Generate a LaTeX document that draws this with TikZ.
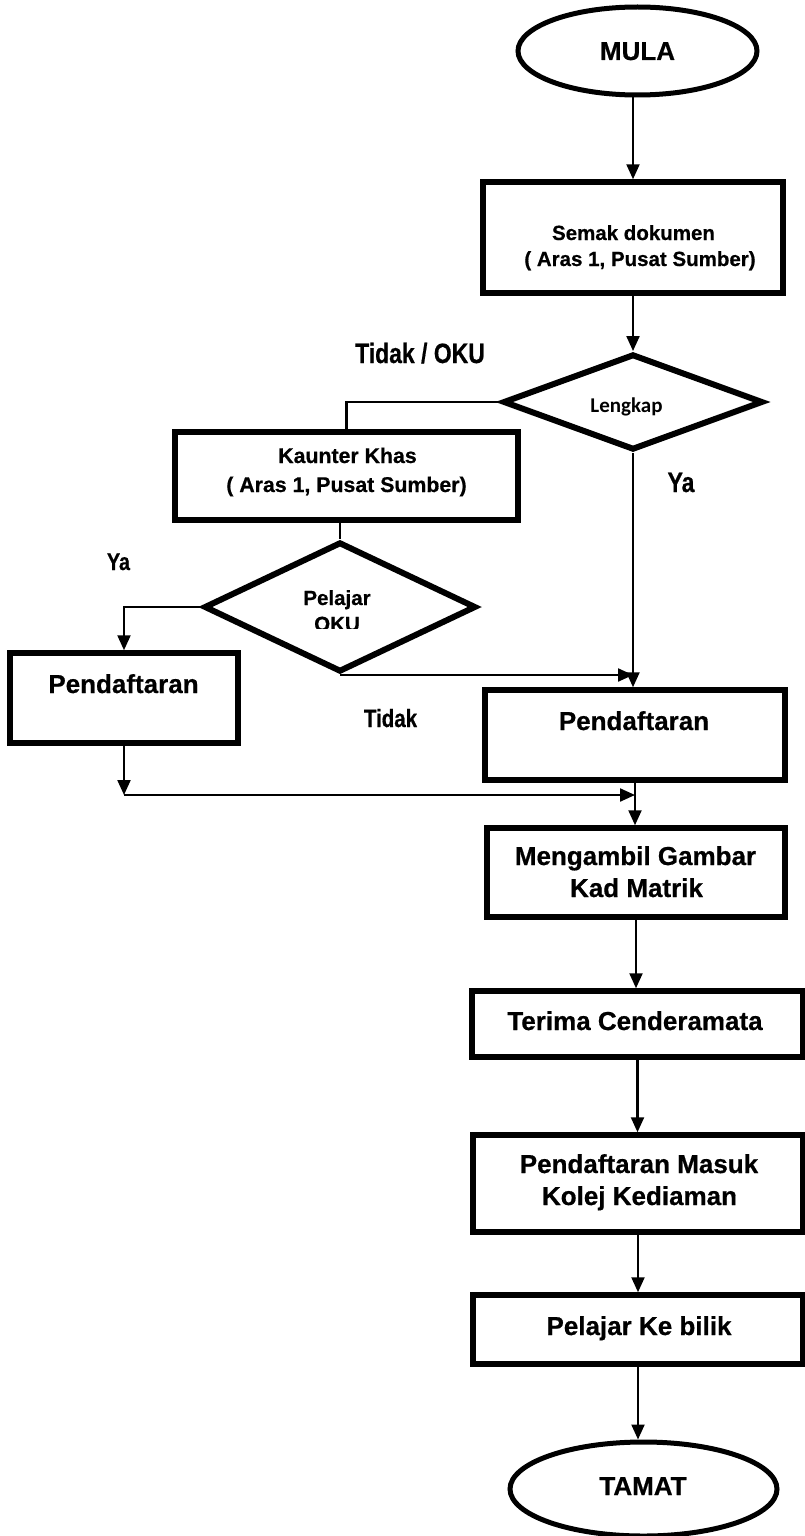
\documentclass[tikz,border=0pt]{standalone}
\usepackage{fontspec}
\setmainfont{Liberation Sans}[BoldFeatures={FakeBold=0.6}]
\newfontfamily\narrowfont{Liberation Sans}[FakeStretch=0.82,BoldFeatures={FakeBold=0.6}]
\newfontfamily\calfont{Carlito}
\usetikzlibrary{shapes.geometric,arrows.meta}
\begin{document}
\begin{tikzpicture}[x=1pt,y=-1pt,
  box/.style={draw, line width=5.5pt, rectangle, inner sep=0pt},
  term/.style={draw, line width=5pt, ellipse, inner sep=0pt},
  dec/.style={draw, line width=6pt, diamond, inner sep=0pt},
  conn/.style={line width=2.2pt},
  arr/.style={line width=2.2pt, -{Triangle[length=15pt,width=13pt]}},
  tb/.style={anchor=base, inner sep=0pt, font=\bfseries\fontsize{26}{30}\selectfont},
  ts/.style={anchor=base, inner sep=0pt, font=\bfseries\fontsize{20.5}{24}\selectfont},
  tk/.style={anchor=base, inner sep=0pt, font=\bfseries\fontsize{21.3}{25}\selectfont},
  nar/.style={anchor=base, inner sep=0pt, font=\narrowfont\bfseries\fontsize{#1}{#1}\selectfont},
  cal/.style={anchor=base, inner sep=0pt, font=\calfont\bfseries\fontsize{21}{24}\selectfont}
]
\useasboundingbox (0,0) rectangle (805,1536);

% shapes
\node[term, minimum width=239pt, minimum height=88pt] (mula) at (637.5,51) {};
\node[box, minimum width=300pt, minimum height=111pt] (semak) at (633,237.5) {};
\node[dec, minimum width=260pt, minimum height=96pt] (lengkap) at (633,402) {};
\node[box, minimum width=343pt, minimum height=88pt] (kaunter) at (346.5,476) {};
\node[dec, minimum width=272pt, minimum height=130pt] (pelajar) at (340,607) {};
\node[box, minimum width=228pt, minimum height=90pt] (pdL) at (124,698) {};
\node[box, minimum width=300pt, minimum height=90pt] (pdR) at (635,735) {};
\node[box, minimum width=298pt, minimum height=89pt] (ambil) at (636,872.5) {};
\node[box, minimum width=331pt, minimum height=66pt] (terima) at (637.5,1024) {};
\node[box, minimum width=330pt, minimum height=97pt] (masuk) at (638,1183.5) {};
\node[box, minimum width=330pt, minimum height=69pt] (bilik) at (638,1329.5) {};
\node[term, minimum width=267pt, minimum height=94pt] (tamat) at (643.5,1489) {};

% texts
\node[tb] (mulaT) at (637.5,60) {MULA};
\node[ts] (semakA) at (633.5,240) {Semak dokumen};
\node[ts] (semakB) at (640,266) {( Aras 1, Pusat Sumber)};
\node[nar=28] (tidakOku) at (420,363) {Tidak / OKU};
\node[cal] (lengkapT) at (626.5,412) {Lengkap};
\node[nar=28] (yaR) at (681,492) {Ya};
\node[tk] (kaunterA) at (347.5,463) {Kaunter Khas};
\node[tk] (kaunterB) at (346.5,492) {( Aras 1, Pusat Sumber)};
\node[nar=24] (yaL) at (118.5,570) {Ya};
\node[ts] (pelajarA) at (337,605) {Pelajar};
\begin{scope}
  \clip (250,560) rectangle (430,628);
  \node[ts] (pelajarB) at (337,631) {OKU};
\end{scope}
\node[tb] (pdLT) at (123.5,693) {Pendaftaran};
\node[nar=25] (tidakT) at (390.5,727) {Tidak};
\node[tb] (pdRT) at (634,730) {Pendaftaran};
\node[tb] (ambilA) at (635.5,865) {Mengambil Gambar};
\node[tb] (ambilB) at (636.5,897) {Kad Matrik};
\node[tb] (terimaT) at (635,1030) {Terima Cenderamata};
\node[tb] (masukA) at (639,1173) {Pendaftaran Masuk};
\node[tb] (masukB) at (639.5,1205) {Kolej Kediaman};
\node[tb] (bilikT) at (639,1335) {Pelajar Ke bilik};
\node[tb] (tamatT) at (643,1495) {TAMAT};

% junction points
\coordinate (jL) at (124,795);

% connectors
\draw[arr] ([xshift=-4.5pt]mula.south) -- ([xshift=-4.5pt]mula.south |- semak.north);
\draw[arr] (semak.south) -- (lengkap.north);
\draw[conn] (lengkap.west) -| (kaunter.north);
\draw[conn] (pelajar.north |- kaunter.south) -- (pelajar.north);
\draw[arr] (pelajar.west) -| (pdL.north);
\draw[arr] (pelajar.south) -- (pelajar.south -| lengkap.south);
\draw[arr] (lengkap.south) -- (lengkap.south |- pdR.north);
\draw[arr] (pdL.south) -- (jL);
\draw[arr] (jL) -- (jL -| pdR.south);
\draw[arr] (pdR.south) -- (pdR.south |- ambil.north);
\draw[arr] (ambil.south) -- (ambil.south |- terima.north);
\draw[arr] (terima.south) -- (terima.south |- masuk.north);
\draw[arr] (masuk.south) -- (masuk.south |- bilik.north);
\draw[arr] (bilik.south) -- (bilik.south |- tamat.north);
\end{tikzpicture}
\end{document}
